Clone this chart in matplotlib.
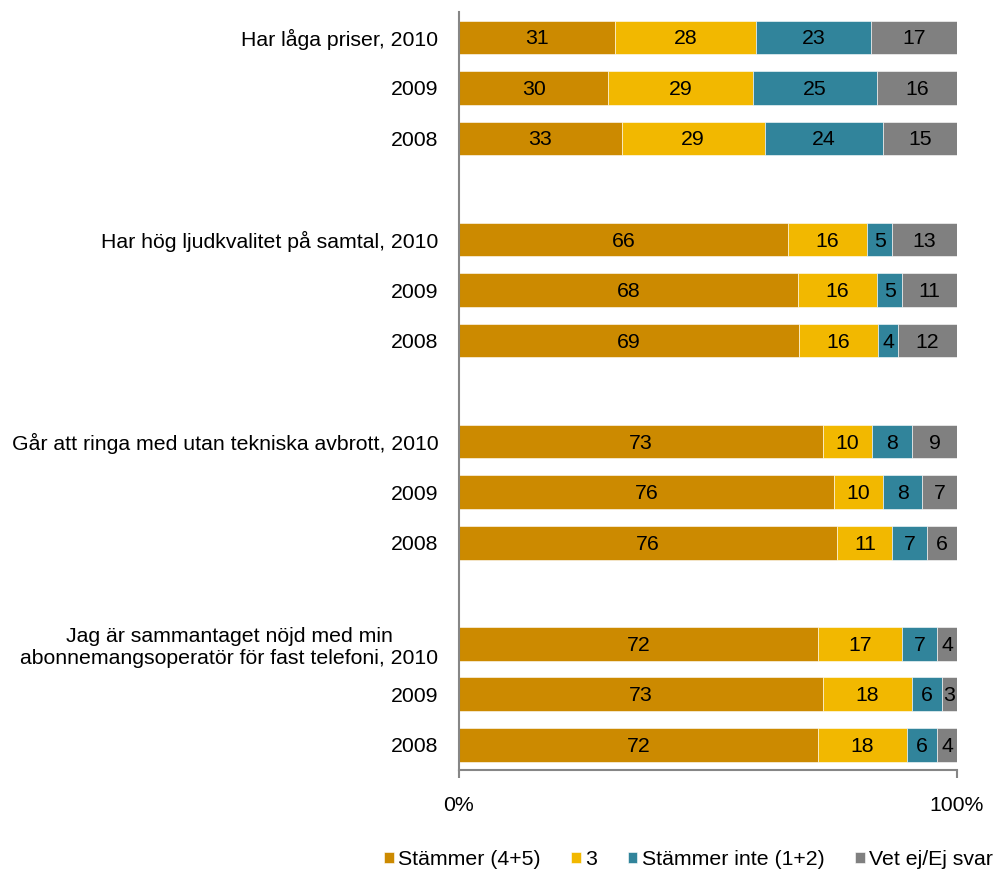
import numpy as np
import matplotlib.pyplot as plt

plt.rcParams['font.family'] = ['Liberation Sans', 'DejaVu Sans']

labels = [
    'Har låga priser, 2010', '2009', '2008',
    'Har hög ljudkvalitet på samtal, 2010', '2009', '2008',
    'Går att ringa med utan tekniska avbrott, 2010', '2009', '2008',
    'Jag är sammantaget nöjd med min\nabonnemangsoperatör för fast telefoni, 2010', '2009', '2008',
]
stammer = [31, 30, 33, 66, 68, 69, 73, 76, 76, 72, 73, 72]
tre = [28, 29, 29, 16, 16, 16, 10, 10, 11, 17, 18, 18]
stammer_inte = [23, 25, 24, 5, 5, 4, 8, 8, 7, 7, 6, 6]
vet_ej = [17, 16, 15, 13, 11, 12, 9, 7, 6, 4, 3, 4]

series = ['Stämmer (4+5)', '3', 'Stämmer inte (1+2)', 'Vet ej/Ej svar']
colors = ['#CC8A00', '#F2B800', '#31849B', '#808080']

FS = 15.3

vals = np.array([stammer, tre, stammer_inte, vet_ej], dtype=float)
shares = vals / vals.sum(axis=0)

# three bars per group, one empty slot between groups
pos = np.array([g * 4 + i for g in range(4) for i in range(3)], dtype=float)

fig = plt.figure(figsize=(9.95, 8.69), dpi=100)
ax = fig.add_axes([0.4613, 0.114, 0.5005, 0.872])

left = np.zeros(len(pos))
for k in range(4):
    ax.barh(pos, shares[k], left=left, height=0.67, color=colors[k],
            edgecolor='white', linewidth=0.4, label=series[k])
    for y, l, w, v in zip(pos, left, shares[k], vals[k]):
        ax.text(l + w / 2, y + 0.03, f'{int(v)}', ha='center', va='center',
                fontsize=FS, color='black')
    left += shares[k]

ax.set_xlim(0, 1)
ax.set_ylim(14.5, -0.5)
ax.set_yticks(pos)
ax.set_yticklabels(labels, fontsize=FS, multialignment='center')
ax.tick_params(axis='y', length=0, pad=15)
ax.set_xticks([0, 1])
ax.set_xticklabels(['0%', '100%'], fontsize=FS)
ax.tick_params(axis='x', length=6, width=1.5, color='#868686', pad=13)

for s in ['top', 'right']:
    ax.spines[s].set_visible(False)
for s in ['left', 'bottom']:
    ax.spines[s].set_color('#868686')
    ax.spines[s].set_linewidth(1.5)

fig.legend(loc='center', bbox_to_anchor=(0.692, 0.011), ncol=4, frameon=False,
           fontsize=FS, handlelength=0.45, handleheight=0.45, handletextpad=0.2,
           columnspacing=1.45)

fig.savefig('out.png', dpi=100)
